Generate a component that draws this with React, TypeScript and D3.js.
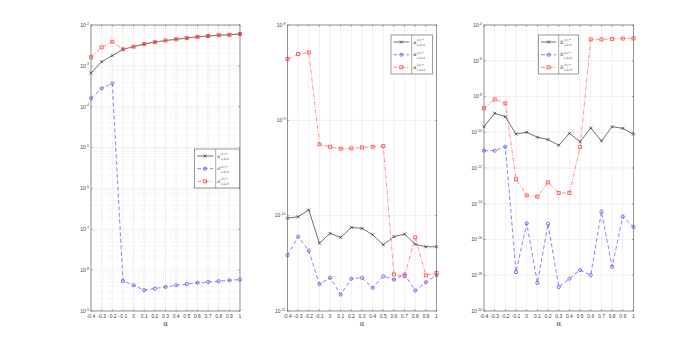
import React from "react";
import * as d3 from "d3";

const alphas = [-0.4, -0.3, -0.2, -0.1, 0, 0.1, 0.2, 0.3, 0.4, 0.5, 0.6, 0.7, 0.8, 0.9, 1];
const xTickLabels = ["-0.4", "-0.3", "-0.2", "-0.1", "0", "0.1", "0.2", "0.3", "0.4", "0.5", "0.6", "0.7", "0.8", "0.9", "1"];

const p1Black = [6.7e-4, 1.26e-3, 1.78e-3, 2.54e-3, 2.95e-3, 3.43e-3, 3.8e-3, 4.17e-3, 4.47e-3, 4.79e-3, 5.13e-3, 5.37e-3, 5.62e-3, 5.75e-3, 6.03e-3];
const p1Blue = [1.6e-4, 2.82e-4, 3.72e-4, 5.43e-9, 4.27e-9, 3.24e-9, 3.55e-9, 3.89e-9, 4.27e-9, 4.57e-9, 4.9e-9, 5.13e-9, 5.37e-9, 5.62e-9, 5.89e-9];
const p1Red = [1.62e-3, 2.84e-3, 3.89e-3, 2.54e-3, 2.95e-3, 3.43e-3, 3.8e-3, 4.17e-3, 4.47e-3, 4.79e-3, 5.13e-3, 5.37e-3, 5.62e-3, 5.75e-3, 6.03e-3];

const p2Black = [9.4e-11, 9.75e-11, 1.15e-10, 5.13e-11, 6.52e-11, 5.92e-11, 7.53e-11, 7.36e-11, 6.31e-11, 4.95e-11, 6.03e-11, 6.41e-11, 5.01e-11, 4.72e-11, 4.72e-11];
const p2Blue = [3.83e-11, 6.03e-11, 4.29e-11, 1.91e-11, 2.23e-11, 1.49e-11, 2.18e-11, 2.23e-11, 1.75e-11, 2.31e-11, 2.14e-11, 2.42e-11, 1.64e-11, 2.0e-11, 2.38e-11];
const p2Red = [4.4e-9, 4.97e-9, 5.16e-9, 5.6e-10, 5.28e-10, 5.04e-10, 5.08e-10, 5.2e-10, 5.28e-10, 5.37e-10, 2.42e-11, 2.32e-11, 5.92e-11, 2.36e-11, 2.51e-11];

const p3Black = [2.04e-10, 1.15e-9, 7.41e-10, 7.94e-11, 1.0e-10, 5.25e-11, 3.89e-11, 1.86e-11, 8.71e-11, 2.95e-11, 1.74e-10, 3.24e-11, 2.04e-10, 1.66e-10, 7.76e-11];
const p3Blue = [9.33e-12, 9.33e-12, 1.55e-11, 1.51e-18, 7.94e-16, 3.72e-19, 7.59e-16, 2.19e-19, 6.46e-19, 1.95e-18, 1.02e-18, 3.63e-15, 3.02e-18, 1.91e-15, 5.01e-16];
const p3Red = [2.19e-9, 6.92e-9, 4.17e-9, 2.34e-13, 2.95e-14, 2.51e-14, 1.58e-13, 3.98e-14, 3.98e-14, 1.45e-11, 1.58e-5, 1.58e-5, 1.66e-5, 1.74e-5, 1.78e-5];

const p1YExp = [-9, -8, -7, -6, -5, -4, -3, -2];
const p2YExp = [-11, -10, -9, -8];
const p3YExp = [-20, -18, -16, -14, -12, -10, -8, -6, -4];

const legendSymbols = ["a", "α", "b"];
const legendSups = ["(1),*", "(2),*", "(3),*"];
const legendSubs = ["1,Lc1", "1,Lc2", "1,Lc3"];

const BLACK = "#333333";
const BLUE = "#5050ff";
const RED = "#ff5c5c";

type PanelCfg = {
  x0: number; x1: number; y0: number; y1: number;
  yExp: number[]; minor: boolean;
  series: number[][];
  legend: { x: number; y: number; w: number; h: number; div: number };
  sym: string;
};

const panels: PanelCfg[] = [
  { x0: 91, x1: 240, y0: 25, y1: 311, yExp: p1YExp, minor: true, series: [p1Black, p1Blue, p1Red],
    legend: { x: 194.5, y: 149, w: 45, h: 39, div: 215.7 }, sym: legendSymbols[0] },
  { x0: 287.5, x1: 436.5, y0: 25, y1: 311, yExp: p2YExp, minor: false, series: [p2Black, p2Blue, p2Red],
    legend: { x: 391, y: 35, w: 41.5, h: 39, div: 411.7 }, sym: legendSymbols[1] },
  { x0: 484, x1: 633.5, y0: 25, y1: 311, yExp: p3YExp, minor: false, series: [p3Black, p3Blue, p3Red],
    legend: { x: 538.5, y: 35, w: 40, h: 39, div: 558.7 }, sym: legendSymbols[2] },
];

const styles = [
  { color: BLACK, dash: "none", marker: "x" },
  { color: BLUE, dash: "4,2.5", marker: "o" },
  { color: RED, dash: "4,1.5,1,1.5", marker: "s" },
];

function Marker({ type, x, y, color }: { type: string; x: number; y: number; color: string }) {
  if (type === "x") {
    const r = 1.5;
    return (
      <g stroke={color} strokeWidth={0.7}>
        <line x1={x - r} y1={y - r} x2={x + r} y2={y + r} />
        <line x1={x - r} y1={y + r} x2={x + r} y2={y - r} />
      </g>
    );
  }
  if (type === "o") {
    return <circle cx={x} cy={y} r={1.6} fill="none" stroke={color} strokeWidth={0.8} />;
  }
  return <rect x={x - 1.5} y={y - 1.5} width={3} height={3} fill="none" stroke={color} strokeWidth={0.9} />;
}

function Panel({ cfg }: { cfg: PanelCfg }) {
  const x = d3.scaleLinear().domain([-0.4, 1]).range([cfg.x0, cfg.x1]);
  const lo = cfg.yExp[0];
  const hi = cfg.yExp[cfg.yExp.length - 1];
  const y = d3.scaleLog().domain([Math.pow(10, lo), Math.pow(10, hi)]).range([cfg.y1, cfg.y0]);
  const line = d3.line<number>().x((_, i) => x(alphas[i])).y((v) => y(v));

  const minorVals: number[] = [];
  if (cfg.minor) {
    for (let e = lo; e < hi; e++) {
      for (let m = 2; m <= 9; m++) minorVals.push(m * Math.pow(10, e));
    }
  }
  const lg = cfg.legend;
  const rows = [lg.y + 7, lg.y + 19.7, lg.y + 32.3];

  return (
    <g>
      <rect x={cfg.x0} y={cfg.y0} width={cfg.x1 - cfg.x0} height={cfg.y1 - cfg.y0} fill="#fff" />
      {minorVals.map((v, i) => (
        <line key={"m" + i} x1={cfg.x0} x2={cfg.x1} y1={y(v)} y2={y(v)} stroke="#e2e2e2" strokeWidth={0.5} strokeDasharray="1,1" />
      ))}
      {alphas.map((a, i) => (
        <line key={"gx" + i} x1={x(a)} x2={x(a)} y1={cfg.y0} y2={cfg.y1} stroke="#e6e6e6" strokeWidth={0.6} />
      ))}
      {cfg.yExp.map((e, i) => (
        <line key={"gy" + i} x1={cfg.x0} x2={cfg.x1} y1={y(Math.pow(10, e))} y2={y(Math.pow(10, e))} stroke="#e6e6e6" strokeWidth={0.6} />
      ))}
      {cfg.series.map((s, si) => (
        <g key={"s" + si}>
          <path d={line(s) || ""} fill="none" stroke={styles[si].color} strokeWidth={0.7} strokeDasharray={styles[si].dash} />
          {s.map((v, i) => (
            <Marker key={i} type={styles[si].marker} x={x(alphas[i])} y={y(v)} color={styles[si].color} />
          ))}
        </g>
      ))}
      <rect x={cfg.x0} y={cfg.y0} width={cfg.x1 - cfg.x0} height={cfg.y1 - cfg.y0} fill="none" stroke="#555" strokeWidth={0.6} />
      {alphas.map((a, i) => (
        <g key={"tx" + i}>
          <line x1={x(a)} x2={x(a)} y1={cfg.y1} y2={cfg.y1 - 1.5} stroke="#555" strokeWidth={0.5} />
          <line x1={x(a)} x2={x(a)} y1={cfg.y0} y2={cfg.y0 + 1.5} stroke="#555" strokeWidth={0.5} />
          <text x={x(a)} y={cfg.y1 + 6.5} fontSize={5} textAnchor="middle" fill="#444" fontFamily="Liberation Sans, Arial, sans-serif">{xTickLabels[i]}</text>
        </g>
      ))}
      {cfg.yExp.map((e, i) => (
        <g key={"ty" + i}>
          <line x1={cfg.x0} x2={cfg.x0 + 1.5} y1={y(Math.pow(10, e))} y2={y(Math.pow(10, e))} stroke="#555" strokeWidth={0.5} />
          <line x1={cfg.x1} x2={cfg.x1 - 1.5} y1={y(Math.pow(10, e))} y2={y(Math.pow(10, e))} stroke="#555" strokeWidth={0.5} />
          <text x={cfg.x0 - 2} y={y(Math.pow(10, e)) + 1.8} fontSize={5} textAnchor="end" fill="#444" fontFamily="Liberation Sans, Arial, sans-serif">
            10<tspan fontSize={3.6} dy={-2.2}>{String(e)}</tspan>
          </text>
        </g>
      ))}
      <text x={(cfg.x0 + cfg.x1) / 2} y={326} fontSize={7} textAnchor="middle" fill="#444" fontFamily="DejaVu Serif, serif">α</text>
      <rect x={lg.x} y={lg.y} width={lg.w} height={lg.h} fill="#fff" stroke="#555" strokeWidth={0.6} />
      <line x1={lg.div} x2={lg.div} y1={lg.y} y2={lg.y + lg.h} stroke="#555" strokeWidth={0.5} />
      {rows.map((ry, ri) => (
        <g key={"l" + ri}>
          <line x1={lg.x + 2.5} x2={lg.div - 2.5} y1={ry} y2={ry} stroke={styles[ri].color} strokeWidth={0.7} strokeDasharray={styles[ri].dash} />
          <Marker type={styles[ri].marker} x={(lg.x + lg.div) / 2} y={ry} color={styles[ri].color} />
          <text x={lg.div + 1.5} y={ry + 1.5} fontSize={5} fill="#333" fontFamily="DejaVu Serif, serif" fontStyle="italic">{cfg.sym}</text>
          <text x={lg.div + 5} y={ry - 1.2} fontSize={3} fill="#333" fontFamily="DejaVu Serif, serif">{legendSups[ri]}</text>
          <text x={lg.div + 5} y={ry + 4} fontSize={3} fill="#333" fontFamily="DejaVu Serif, serif" fontStyle="italic">{legendSubs[ri]}</text>
        </g>
      ))}
    </g>
  );
}

export default function App() {
  return (
    <svg width={700} height={351} style={{ position: "absolute", left: 0, top: 0, background: "#fff" }}>
      <rect x={0} y={0} width={700} height={351} fill="#fff" />
      {panels.map((p, i) => (
        <Panel key={i} cfg={p} />
      ))}
    </svg>
  );
}
